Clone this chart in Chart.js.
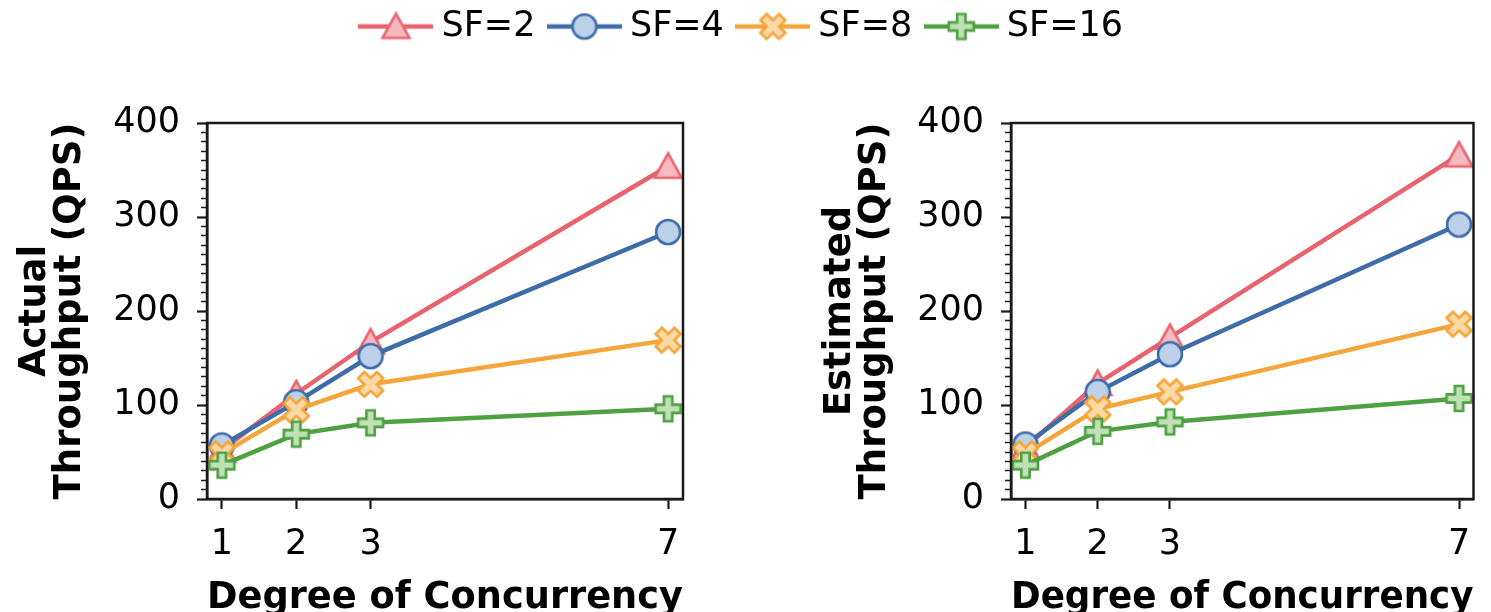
<!DOCTYPE html>
<html>
<head>
<meta charset="utf-8">
<script src="https://cdn.jsdelivr.net/npm/chart.js@4.4.0/dist/chart.umd.min.js"></script>
<style>
  html, body { margin: 0; padding: 0; background: #fff; }
  body { width: 1491px; height: 612px; position: relative; overflow: hidden; }
  .box { position: absolute; }
</style>
</head>
<body>
<div class="box" id="legBox" style="left:0;top:-12px;width:1491px;height:120px;z-index:3"><canvas id="leg"></canvas></div>
<div class="box" style="left:0;top:0;width:746px;height:612px;"><canvas id="c1"></canvas></div>
<div class="box" style="left:745px;top:0;width:746px;height:612px;"><canvas id="c2"></canvas></div>
<script>
// ---------------- data ----------------
const concurrency = [1, 2, 3, 7];
const xTickValues = [1, 2, 3, 7];
const seriesNames = ['SF=2', 'SF=4', 'SF=8', 'SF=16'];

const actualSF2  = [52, 112, 167, 354];
const actualSF4  = [57, 103, 152, 284];
const actualSF8  = [48, 95, 122, 169];
const actualSF16 = [36, 69, 81, 96];

const estSF2  = [55, 123, 172, 366];
const estSF4  = [58, 114, 154, 292];
const estSF8  = [48, 96, 114, 186];
const estSF16 = [36, 72, 82, 107];

const leftTitle = ['Actual', 'Throughput (QPS)'];
const rightTitle = ['Estimated', 'Throughput (QPS)'];
const xTitle = 'Degree of Concurrency';

// ---------------- styles ----------------
const lineColors = ['#E8636E', '#3D6CA8', '#F5A53A', '#4FA043'];
const fillColors = ['#F7B9C0', '#BDD0EA', '#FBD9A5', '#BFE1B5'];
const shapes = ['triangle', 'circle', 'xfilled', 'plusfilled'];
const FONT = "'DejaVu Sans', 'Liberation Sans', sans-serif";

function tracePath(ctx, shape, cx, cy, s) {
  const h = s / 2;
  ctx.beginPath();
  if (shape === 'triangle') {
    ctx.moveTo(cx, cy - h * 0.95);
    ctx.lineTo(cx - h, cy + h * 0.85);
    ctx.lineTo(cx + h, cy + h * 0.85);
    ctx.closePath();
  } else if (shape === 'circle') {
    ctx.arc(cx, cy, h * 0.92, 0, Math.PI * 2);
  } else if (shape === 'plusfilled') {
    const a = s / 6;
    const pts = [[-1,-3],[1,-3],[1,-1],[3,-1],[3,1],[1,1],[1,3],[-1,3],[-1,1],[-3,1],[-3,-1],[-1,-1]];
    pts.forEach((p, i) => { const x = cx + p[0] * a, y = cy + p[1] * a;
      if (i === 0) ctx.moveTo(x, y); else ctx.lineTo(x, y); });
    ctx.closePath();
  } else if (shape === 'xfilled') {
    const a = s / 4;
    const pts = [[-1,-2],[0,-1],[1,-2],[2,-1],[1,0],[2,1],[1,2],[0,1],[-1,2],[-2,1],[-1,0],[-2,-1]];
    pts.forEach((p, i) => { const x = cx + p[0] * a, y = cy + p[1] * a;
      if (i === 0) ctx.moveTo(x, y); else ctx.lineTo(x, y); });
    ctx.closePath();
  }
}

function makeMarker(i, size) {
  const lw = 2.6;
  const S = Math.ceil(size + lw * 2 + 2);
  const c = document.createElement('canvas');
  c.width = S; c.height = S;
  const ctx = c.getContext('2d');
  tracePath(ctx, shapes[i], S / 2, S / 2, size);
  ctx.fillStyle = fillColors[i];
  ctx.fill();
  ctx.lineWidth = lw;
  ctx.lineJoin = 'miter';
  ctx.strokeStyle = lineColors[i];
  ctx.stroke();
  return c;
}

function makeLegendIcon(i) {
  const W = 75, H = 34;
  const c = document.createElement('canvas');
  c.width = W; c.height = H;
  const ctx = c.getContext('2d');
  ctx.strokeStyle = lineColors[i];
  ctx.lineWidth = 4.5;
  ctx.beginPath();
  ctx.moveTo(0, H / 2); ctx.lineTo(W, H / 2);
  ctx.stroke();
  const m = makeMarker(i, markerSizes[i]);
  ctx.drawImage(m, (W - m.width) / 2, (H - m.height) / 2);
  return c;
}

const markerSizes = [27, 26, 25, 25];
const markers = [0, 1, 2, 3].map(i => makeMarker(i, markerSizes[i]));
const legendIcons = [0, 1, 2, 3].map(i => makeLegendIcon(i));

// frame plugin: draws the box around the plotting area
const framePlugin = {
  id: 'frame',
  afterDatasetsDraw(chart) {
    const a = chart.chartArea, ctx = chart.ctx;
    ctx.save();
    ctx.strokeStyle = '#1a1a1a';
    ctx.lineWidth = 2.5;
    ctx.strokeRect(a.left, a.top, a.right - a.left, a.bottom - a.top);
    ctx.restore();
  }
};

function buildChart(id, seriesList, yTitle, yAxisWidth, padRight, titlePad) {
  const datasets = seriesList.map((vals, i) => ({
    label: seriesNames[i],
    data: concurrency.map((x, k) => ({ x: x, y: vals[k] })),
    borderColor: lineColors[i],
    backgroundColor: fillColors[i],
    borderWidth: 4.5,
    pointStyle: markers[i],
    pointRadius: 13,
    pointHoverRadius: 13,
    tension: 0,
    clip: 0,
    order: 4 - i
  }));
  return new Chart(document.getElementById(id), {
    type: 'line',
    data: { datasets },
    plugins: [framePlugin],
    options: {
      responsive: true,
      maintainAspectRatio: false,
      animation: false,
      events: [],
      layout: { padding: { top: 123, right: padRight, bottom: 0, left: 0 } },
      plugins: { legend: { display: false }, tooltip: { enabled: false } },
      scales: {
        x: {
          type: 'linear',
          min: 0.8, max: 7.2,
          afterBuildTicks: (s) => { s.ticks = xTickValues.map(v => ({ value: v })); },
          afterFit: (s) => { s.height = 113; },
          grid: { display: true, drawOnChartArea: false, drawTicks: true, tickLength: 10,
                  tickWidth: 2.2, tickColor: '#1a1a1a' },
          border: { display: true, color: '#1a1a1a', width: 2.5 },
          ticks: { color: '#000', font: { family: FONT, size: 35 }, padding: 15,
                   maxRotation: 0, autoSkip: false },
          title: { display: true, text: xTitle, color: '#000',
                   font: { family: FONT, size: 37, weight: 'bold', lineHeight: 1.0 },
                   padding: { top: 0, bottom: -5 } }
        },
        y: {
          type: 'linear',
          min: 0, max: 400,
          afterFit: (s) => { s.width = yAxisWidth; },
          grid: { display: true, drawOnChartArea: false, drawTicks: true, tickLength: 10,
                  tickColor: '#1a1a1a',
                  tickWidth: (c) => (c.tick && c.tick.value % 100 === 0) ? 2.2 : 1.6,
                  tickBorderDash: (c) => (c.tick && c.tick.value % 100 === 0) ? [] : [0, 4, 6, 100] },
          border: { display: true, color: '#1a1a1a', width: 2.5 },
          ticks: { stepSize: 10, autoSkip: false, color: '#000',
                   font: { family: FONT, size: 35 }, padding: 17,
                   callback: (v) => (v % 100 === 0 ? String(v) : '') },
          title: { display: true, text: yTitle, color: '#000',
                   font: { family: FONT, size: 37, weight: 'bold', lineHeight: 0.97 },
                   padding: { top: titlePad, bottom: 0 } }
        }
      }
    }
  });
}

buildChart('c1', [actualSF2, actualSF4, actualSF8, actualSF16], leftTitle, 207, 63, 17);
buildChart('c2', [estSF2, estSF4, estSF8, estSF16], rightTitle, 266, 7, 77);

// legend-only chart
new Chart(document.getElementById('leg'), {
  type: 'line',
  data: { datasets: seriesNames.map((n, i) => ({ label: n, data: [], borderColor: lineColors[i], backgroundColor: fillColors[i] })) },
  options: {
    responsive: true, maintainAspectRatio: false, animation: false, events: [],
    layout: { padding: 0 },
    scales: { x: { display: false }, y: { display: false } },
    plugins: {
      tooltip: { enabled: false },
      legend: {
        display: true, position: 'top', maxHeight: 200,
        labels: {
          color: '#000',
          font: { family: FONT, size: 35 },
          usePointStyle: true,
          pointStyleWidth: 56,
          padding: 21,
          generateLabels: (chart) => seriesNames.map((n, i) => ({
            text: n, pointStyle: legendIcons[i], fillStyle: fillColors[i],
            strokeStyle: lineColors[i], lineWidth: 0, hidden: false, datasetIndex: i, fontColor: '#000'
          }))
        }
      }
    }
  }
});
</script>
</body>
</html>
